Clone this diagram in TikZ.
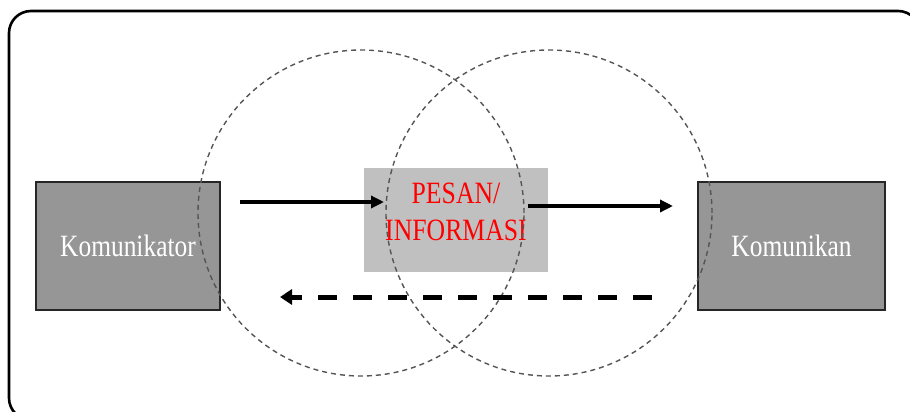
\documentclass[tikz,border=0pt]{standalone}
\usepackage{fontspec}
\setmainfont{Liberation Serif}
\usetikzlibrary{arrows.meta}
\definecolor{boxgray}{HTML}{969696}
\definecolor{msggray}{HTML}{C0C0C0}
\definecolor{ringgray}{HTML}{555555}
\tikzset{
  party/.style={draw=black!85, line width=1.3pt, fill=boxgray, minimum width=#1,
    minimum height=128pt, inner sep=0pt, text=white,
    font=\fontsize{31}{31}\selectfont},
  ring/.style={circle, draw=ringgray, line width=1.4pt, dash pattern=on 5pt off 4pt,
    minimum size=326pt, inner sep=0pt},
  flow/.style={line width=3.5pt, -{Triangle[length=13pt,width=12pt]}},
  feedback/.style={line width=5pt, dash pattern=on 19pt off 16pt,
    -{Triangle[length=12pt,width=15pt]}}
}
\begin{document}
\begin{tikzpicture}[x=1pt,y=-1pt]
  \useasboundingbox (0,0) rectangle (910,412);
  % outer frame
  \draw[line width=2.6pt, rounded corners=22pt] (9,11) rectangle (920,420);
  % message box
  \node[fill=msggray, minimum width=184pt, minimum height=104pt, inner sep=0pt] (msg) at (456,220) {};
  \node[text=red, font=\fontsize{31}{37}\selectfont, xscale=0.83, align=center] (msgtext) at (456,212)
    {PESAN/\\INFORMASI};
  % sender and receiver
  \node[party=184pt] (src) at (128,246) {\scalebox{0.82}[1]{Komunikator}};
  \node[party=187pt] (dst) at (791.5,246) {\scalebox{0.82}[1]{Komunikan}};
  % overlapping fields of experience
  \node[ring] (ringA) at (361,213) {};
  \node[ring] (ringB) at (549,213) {};
  % arrow end points
  \coordinate (a1s) at (240,202);
  \coordinate (a1e) at (384,202);
  \coordinate (a2s) at (528,206);
  \coordinate (a2e) at (673,206);
  \coordinate (fbs) at (652,297);
  \coordinate (fbe) at (280,297);
  \draw[flow] (a1s) -- (a1e);
  \draw[flow] (a2s) -- (a2e);
  \draw[feedback] (fbs) -- (fbe);
\end{tikzpicture}
\end{document}
